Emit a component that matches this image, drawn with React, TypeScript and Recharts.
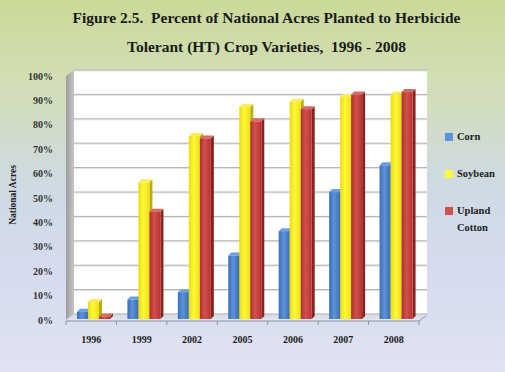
import React from "react";
import {
  BarChart,
  Bar,
  XAxis,
  YAxis,
  CartesianGrid,
} from "recharts";

// ── data ──
const years = ["1996", "1999", "2002", "2005", "2006", "2007", "2008"];
const corn = [3, 8, 11, 26, 36, 52, 63];
const soybean = [7, 56, 75, 87, 89, 91, 92];
const cotton = [1, 44, 74, 81, 86, 92, 93];
const yTicks = [0, 10, 20, 30, 40, 50, 60, 70, 80, 90, 100];

const series = [
  { key: "corn", name: "Corn", values: corn, front: ["#3a6db5", "#5b93dc", "#3a6db5"], side: "#2a5088", top: "#6a9ee0" },
  { key: "soybean", name: "Soybean", values: soybean, front: ["#e8dc10", "#fff83a", "#ece012"], side: "#b8ad10", top: "#f4ee60" },
  { key: "cotton", name: "Upland Cotton", values: cotton, front: ["#b0302e", "#d0504c", "#b8332f"], side: "#862422", top: "#d86a66" },
];

const chartData = years.map((year, i) => ({
  year,
  corn: corn[i],
  soybean: soybean[i],
  cotton: cotton[i],
}));

// ── layout ──
const W = 505;
const H = 372;
const PLOT_L = 66;
const PLOT_R = 419;
const PLOT_T = 76;
const PLOT_B = 320;
const DEPTH_X = 8;
const DEPTH_Y = 6;
const FONT = '"Liberation Serif", "Times New Roman", serif';

function makeBarShape(s: (typeof series)[number]) {
  return (props: any) => {
    const { x, y, width, height } = props;
    if (width == null || height == null) return <g />;
    const d = 3;
    const bx = x + 2;
    const by = y - 1;
    const gid = `grad-${s.key}`;
    return (
      <g>
        <defs>
          <linearGradient id={gid} x1="0" y1="0" x2="1" y2="0">
            <stop offset="0%" stopColor={s.front[0]} />
            <stop offset="45%" stopColor={s.front[1]} />
            <stop offset="100%" stopColor={s.front[2]} />
          </linearGradient>
        </defs>
        <polygon
          points={`${bx + width},${by} ${bx + width + d},${by - d} ${bx + width + d},${by + height - d} ${bx + width},${by + height}`}
          fill={s.side}
        />
        <polygon
          points={`${bx},${by} ${bx + d},${by - d} ${bx + width + d},${by - d} ${bx + width},${by}`}
          fill={s.top}
        />
        <rect x={bx} y={by} width={width} height={height} fill={`url(#${gid})`} />
      </g>
    );
  };
}

const renderGridLine = (props: any) => {
  const { x1, y1, x2, y2, index } = props;
  return (
    <g key={`grid-${index}`}>
      <line x1={x1 + DEPTH_X} y1={y1 - DEPTH_Y + 1} x2={x2 + DEPTH_X} y2={y2 - DEPTH_Y + 1} stroke="#e4e4e4" />
      <line x1={x1 + DEPTH_X} y1={y1 - DEPTH_Y} x2={x2 + DEPTH_X} y2={y2 - DEPTH_Y} stroke="#b0b0b0" />
    </g>
  );
};

function LegendBox() {
  return (
    <div
      style={{
        position: "absolute",
        left: 445,
        top: 128,
        fontFamily: FONT,
        fontSize: 10.5,
        fontWeight: "bold",
        color: "#1c1c1c",
      }}
    >
      {series.map((s) => (
        <div key={s.key} style={{ position: "relative", marginBottom: 20, paddingLeft: 12, width: 45, lineHeight: "17px" }}>
          <span
            style={{
              position: "absolute",
              left: 0,
              top: 5,
              width: 8,
              height: 8,
              background: s.front[1],
            }}
          />
          {s.name}
        </div>
      ))}
    </div>
  );
}

function Decorations() {
  const cat = (PLOT_R - PLOT_L) / years.length;
  const ticks = years.map((_, i) => PLOT_L + i * cat).concat([PLOT_R]);
  return (
    <svg width={W} height={H} style={{ position: "absolute", left: 0, top: 0 }}>
      <defs>
        <linearGradient id="wall" x1="0" y1="0" x2="1" y2="0">
          <stop offset="0%" stopColor="#9c9c9c" />
          <stop offset="100%" stopColor="#c6c6c6" />
        </linearGradient>
        <linearGradient id="floor" x1="0" y1="0" x2="0" y2="1">
          <stop offset="0%" stopColor="#cfd6e4" />
          <stop offset="100%" stopColor="#e2e6f0" />
        </linearGradient>
      </defs>
      <rect x={PLOT_L + DEPTH_X} y={PLOT_T - DEPTH_Y} width={PLOT_R - PLOT_L} height={PLOT_B - PLOT_T} fill="#ffffff" />
      <polygon
        points={`${PLOT_L},${PLOT_T} ${PLOT_L + DEPTH_X},${PLOT_T - DEPTH_Y} ${PLOT_L + DEPTH_X},${PLOT_B - DEPTH_Y} ${PLOT_L},${PLOT_B}`}
        fill="url(#wall)"
      />
      <polygon
        points={`${PLOT_L},${PLOT_B} ${PLOT_L + DEPTH_X},${PLOT_B - DEPTH_Y} ${PLOT_R + DEPTH_X},${PLOT_B - DEPTH_Y} ${PLOT_R},${PLOT_B}`}
        fill="url(#floor)"
      />
      <polyline
        points={`${PLOT_L},${PLOT_B + 1} ${PLOT_R},${PLOT_B + 1} ${PLOT_R + DEPTH_X},${PLOT_B - DEPTH_Y + 1}`}
        fill="none"
        stroke="#8c93a3"
      />
      {ticks.map((t, i) => (
        <line key={i} x1={t} y1={PLOT_B + 1} x2={t} y2={PLOT_B + 5} stroke="#8c93a3" />
      ))}
      <text
        transform={`translate(16, 195) rotate(-90)`}
        textAnchor="middle"
        fontFamily={FONT}
        fontSize={9.5}
        fontWeight="bold"
        fill="#222"
      >
        National Acres
      </text>
    </svg>
  );
}

export default function App() {
  return (
    <div
      style={{
        position: "relative",
        width: W,
        height: H,
        overflow: "hidden",
        background:
          "linear-gradient(180deg, #cbd999 0%, #d2deb5 22%, #cfdae4 50%, #d6dcef 75%, #e0e3f1 100%)",
      }}
    >
      <style>{`body{margin:0}`}</style>
      <div
        style={{
          position: "absolute",
          left: 40,
          top: 3,
          width: 453,
          textAlign: "center",
          fontFamily: FONT,
          fontWeight: "bold",
          fontSize: 15.5,
          lineHeight: "29px",
          color: "#1a1a1a",
          whiteSpace: "pre",
        }}
      >
        {"Figure 2.5.  Percent of National Acres Planted to Herbicide\nTolerant (HT) Crop Varieties,  1996 - 2008"}
      </div>
      <Decorations />
      <LegendBox />
      <div style={{ position: "absolute", left: 0, top: 0 }}>
        <BarChart
          width={W}
          height={H}
          data={chartData}
          margin={{ top: PLOT_T, right: W - PLOT_R, bottom: 27, left: 6 }}
          barGap={0}
          barSize={11}
        >
          <CartesianGrid vertical={false} horizontal={renderGridLine} />
          <XAxis
            dataKey="year"
            axisLine={false}
            tickLine={false}
            tickSize={0}
            tickMargin={16}
            height={25}
            tick={{ fill: "#1c1c1c", fontSize: 10, fontWeight: "bold", fontFamily: FONT }}
          />
          <YAxis
            domain={[0, 100]}
            ticks={yTicks}
            width={60}
            axisLine={false}
            tickLine={false}
            tickSize={0}
            tickMargin={13}
            tickFormatter={(v) => `${v}%`}
            tick={{ fill: "#333", fontSize: 10, fontWeight: "bold", fontFamily: FONT }}
          />
          {series.map((s) => (
            <Bar
              key={s.key}
              dataKey={s.key}
              name={s.name}
              fill={s.front[1]}
              shape={makeBarShape(s)}
              isAnimationActive={false}
            />
          ))}
        </BarChart>
      </div>
    </div>
  );
}
